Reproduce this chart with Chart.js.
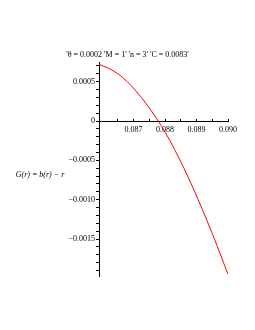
<!DOCTYPE html>
<html>
<head>
<meta charset="utf-8">
<script src="https://cdn.jsdelivr.net/npm/chart.js@4/dist/chart.umd.min.js"></script>
<style>
html,body{margin:0;padding:0;background:#fff;}
#wrap{width:255px;height:330px;position:relative;}
</style>
</head>
<body>
<div id="wrap"><canvas id="c" width="255" height="330"></canvas></div>
<script>
const titleText = "'θ = 0.0002 'M = 1' 'n = 3' 'C = 0.0083'";
const yLabelText = "G(r) = b(r) − r";

const rValues = [0.0859, 0.0862, 0.0865, 0.0868, 0.0871, 0.0874, 0.0877, 0.0880, 0.0883, 0.0886, 0.0889, 0.0892, 0.0895, 0.0898, 0.0900];
const gValues = [0.00072, 0.00067, 0.00060, 0.00050, 0.00037, 0.00022, 0.00005, -0.00014, -0.00036, -0.00060, -0.00086, -0.00114, -0.00143, -0.00174, -0.00195];

const xTickValues = [0.0865, 0.0870, 0.0875, 0.0880, 0.0885, 0.0890, 0.0895, 0.0900];
const xTickLabels = ['', '0.087', '', '0.088', '', '0.089', '', '0.090'];
const yTickValues = [0.0007, 0.0006, 0.0005, 0.0004, 0.0003, 0.0002, 0.0001, 0, -0.0001, -0.0002, -0.0003, -0.0004, -0.0005, -0.0006, -0.0007, -0.0008, -0.0009, -0.0010, -0.0011, -0.0012, -0.0013, -0.0014, -0.0015, -0.0016, -0.0017, -0.0018, -0.0019];
const yTickLabels = ['', '', '0.0005', '', '', '', '', '0', '', '', '', '', '−0.0005', '', '', '', '', '−0.0010', '', '', '', '', '−0.0015', '', '', '', ''];

const serif = '"Liberation Serif", "DejaVu Serif", serif';

const textPlugin = {
  id: 'texts',
  afterDraw(chart) {
    const ctx = chart.ctx;
    const ca = chart.chartArea;
    ctx.save();
    ctx.fillStyle = '#000';
    ctx.font = '8px ' + serif;
    ctx.textAlign = 'center';
    ctx.textBaseline = 'middle';
    ctx.fillText(titleText, chart.width / 2, 55);
    ctx.font = 'italic 8px ' + serif;
    ctx.fillText(yLabelText, 40, (ca.top + ca.bottom) / 2 + 6);
    ctx.restore();
  }
};

new Chart(document.getElementById('c'), {
  type: 'scatter',
  data: {
    datasets: [{
      data: rValues.map((r, i) => ({x: r, y: gValues[i]})),
      showLine: true,
      borderColor: '#ff0000',
      borderWidth: 1,
      pointRadius: 0,
      tension: 0.4,
      cubicInterpolationMode: 'monotone',
      fill: false
    }]
  },
  options: {
    responsive: false,
    animation: false,
    devicePixelRatio: 1,
    layout: {padding: {left: 49, right: 27, top: 62, bottom: 54}},
    plugins: {legend: {display: false}, tooltip: {enabled: false}, title: {display: false}},
    scales: {
      x: {
        type: 'linear',
        position: {y: 0},
        min: 0.0859,
        max: 0.0900,
        afterBuildTicks: s => { s.ticks = xTickValues.map(v => ({value: v})); },
        ticks: {
          autoSkip: false,
          maxRotation: 0,
          padding: 7,
          color: '#000',
          font: {family: serif, size: 8},
          callback: (v, i) => xTickLabels[i]
        },
        grid: {drawOnChartArea: false, tickLength: -3, color: '#000'},
        border: {color: '#000', width: 1}
      },
      y: {
        type: 'linear',
        position: 'left',
        min: -0.00197,
        max: 0.00075,
        afterBuildTicks: s => { s.ticks = yTickValues.map(v => ({value: v})); },
        afterFit: s => { s.width = 50; },
        ticks: {
          autoSkip: false,
          padding: 1,
          color: '#000',
          font: {family: serif, size: 8},
          callback: (v, i) => yTickLabels[i]
        },
        grid: {drawOnChartArea: false, tickLength: 3, color: '#000'},
        border: {color: '#000', width: 1}
      }
    }
  },
  plugins: [textPlugin]
});
</script>
</body>
</html>
